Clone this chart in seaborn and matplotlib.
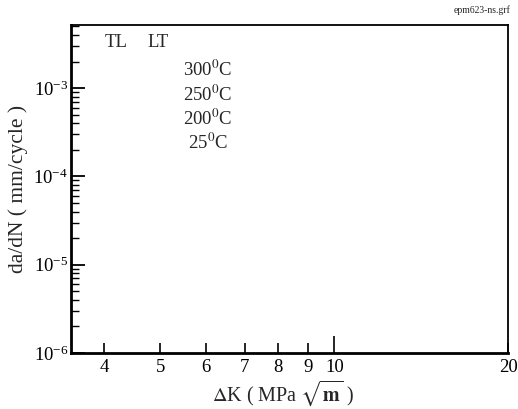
import numpy as np
import matplotlib
matplotlib.use("Agg")
import matplotlib.pyplot as plt
import matplotlib.ticker as mticker
import seaborn as sns

# ── Chart content ───────────────────────────────────────────────
x_ticks = [4, 5, 6, 7, 8, 9, 10, 20]
x_limits = (3.5, 20)
y_limits = (1e-6, 5.2e-3)
orientations = ["TL", "LT"]
temperatures = ["300$^0$C", "250$^0$C", "200$^0$C", "25$^0$C"]
file_tag = "epm623-ns.grf"

sns.set_style("ticks")
plt.rcParams.update({
    "font.family": ["Liberation Serif", "DejaVu Serif"],
    "mathtext.fontset": "stix",
    "axes.edgecolor": "black",
})

fig = plt.figure(figsize=(5.18, 4.09), dpi=100)
ax = fig.add_axes([0.137, 0.137, 0.844, 0.802])

ax.set_xscale("log")
ax.set_yscale("log")
ax.set_xlim(*x_limits)
ax.set_ylim(*y_limits)

# x axis: labelled ticks at each value, no minor ticks
ax.xaxis.set_major_locator(mticker.FixedLocator(x_ticks))
ax.xaxis.set_major_formatter(mticker.FixedFormatter([str(v) for v in x_ticks]))
ax.xaxis.set_minor_locator(mticker.NullLocator())

# y axis: decades with log minor ticks
ax.yaxis.set_major_locator(mticker.LogLocator(base=10))
ax.yaxis.set_minor_locator(mticker.LogLocator(base=10, subs=np.arange(2, 10)))
ax.yaxis.set_minor_formatter(mticker.NullFormatter())

ax.tick_params(axis="both", which="both", direction="in", colors="black",
               labelsize=13.5, top=False, right=False)
ax.tick_params(axis="y", which="major", length=10, width=1.3, pad=2)
ax.tick_params(axis="y", which="minor", length=6, width=1.0)
ax.tick_params(axis="x", which="major", length=7, width=1.2, pad=4)
for tick, v in zip(ax.xaxis.get_major_ticks(), x_ticks):
    if v == 10:
        tick.tick1line.set_markersize(12)

for side in ["left", "bottom"]:
    ax.spines[side].set_linewidth(2.0)
for side in ["top", "right"]:
    ax.spines[side].set_linewidth(1.3)

ax.set_xlabel(r"$\Delta$K ( MPa $\sqrt{\mathbf{m}}$ )", fontsize=14.5, labelpad=2)
ax.xaxis.label.set_x(0.485)
ax.set_ylabel("da/dN ( mm/cycle )", fontsize=15.5, labelpad=4)

# legend-like labels (no data markers in the figure)
for i, name in enumerate(orientations):
    ax.text(0.103 + i * 0.097, 0.945, name, transform=ax.transAxes,
            fontsize=13.5, ha="center", va="center")
for i, name in enumerate(temperatures):
    ax.text(0.313, 0.862 - i * 0.074, name, transform=ax.transAxes,
            fontsize=13.5, ha="center", va="center")

fig.text(0.985, 0.975, file_tag, fontsize=7, ha="right", va="center")

fig.savefig("out.png", dpi=100)
